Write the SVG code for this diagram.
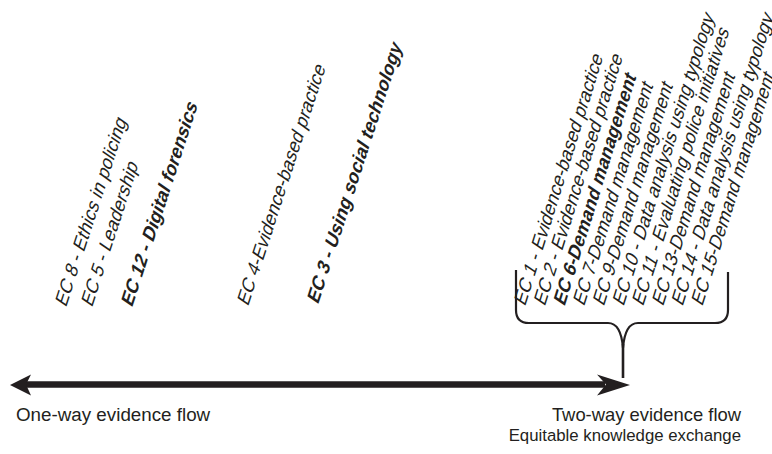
<svg xmlns="http://www.w3.org/2000/svg" width="772" height="454" viewBox="0 0 772 454">
<style>
.t{font-family:"Liberation Sans",Arial,Helvetica,sans-serif;font-size:18.6px;fill:#231f20}
.b{font-weight:bold}
.lab{font-family:"Liberation Sans",Arial,Helvetica,sans-serif;font-size:18.4px;fill:#231f20}
.ln{fill:none;stroke:#231f20}
</style>
<rect width="772" height="454" fill="#fff"/>
<g id="connectors">
<line class="ln" x1="26" y1="384.5" x2="605" y2="384.5" stroke-width="6.5"/>
<polygon points="10,385 31,374.5 26,384.5 31,395.5" fill="#231f20"/>
<polygon points="630,385 597,374.5 606,384.5 597,395.5" fill="#231f20"/>
<path class="ln" stroke-width="2.2" d="M516,270 L516,310 Q516,323 529,323 L608,323 Q621,323 623,348 Q625,323 638,323 L715,323 Q728,323 728,310 L728,272"/>
<line class="ln" stroke-width="2.6" x1="623" y1="344" x2="623" y2="378"/>
</g>
<g id="left-labels">
<g id="ec8"><text class="t" transform="translate(66,308) rotate(-72) skewX(-17)">EC 8 - Ethics in policing</text></g>
<g id="ec5"><text class="t" transform="translate(92,308) rotate(-72) skewX(-17)">EC 5 - Leadership</text></g>
<g id="ec12"><text class="t b" transform="translate(132,308) rotate(-72) skewX(-17)">EC 12 - Digital forensics</text></g>
<g id="ec4"><text class="t" transform="translate(248,307) rotate(-72) skewX(-17)">EC 4-Evidence-based practice</text></g>
<g id="ec3"><text class="t b" transform="translate(318,305) rotate(-72) skewX(-17)">EC 3 - Using social technology</text></g>
</g>
<g id="right-cluster">
<g id="ec1"><text class="t" transform="translate(525,307) rotate(-72.6) skewX(-17)">EC 1 - Evidence-based practice</text></g>
<g id="ec2"><text class="t" transform="translate(544.7,307) rotate(-72.6) skewX(-17)">EC 2 - Evidence-based practice</text></g>
<g id="ec6"><text class="t b" transform="translate(564.4,307) rotate(-72.6) skewX(-17)">EC 6-Demand management</text></g>
<g id="ec7"><text class="t" transform="translate(584,307) rotate(-72.6) skewX(-17)">EC 7-Demand management</text></g>
<g id="ec9"><text class="t" transform="translate(603.8,307) rotate(-72.6) skewX(-17)">EC 9-Demand management</text></g>
<g id="ec10"><text class="t" transform="translate(623.5,307) rotate(-72.6) skewX(-17)">EC 10 - Data analysis using typology</text></g>
<g id="ec11"><text class="t" transform="translate(643,307) rotate(-72.6) skewX(-17)">EC 11 - Evaluating police initiatives</text></g>
<g id="ec13"><text class="t" transform="translate(663,307) rotate(-72.6) skewX(-17)">EC 13-Demand management</text></g>
<g id="ec14"><text class="t" transform="translate(682.6,307) rotate(-72.6) skewX(-17)">EC 14 - Data analysis using typology</text></g>
<g id="ec15"><text class="t" transform="translate(702.3,307) rotate(-72.6) skewX(-17)">EC 15-Demand management</text></g>
</g>
<g id="axis-labels">
<text class="lab" x="16" y="421" style="font-size:18.8px">One-way evidence flow</text>
<text class="lab" x="741" y="421" text-anchor="end">Two-way evidence flow</text>
<text class="lab" x="741" y="441" text-anchor="end" style="font-size:16.8px">Equitable knowledge exchange</text>
</g>
</svg>
